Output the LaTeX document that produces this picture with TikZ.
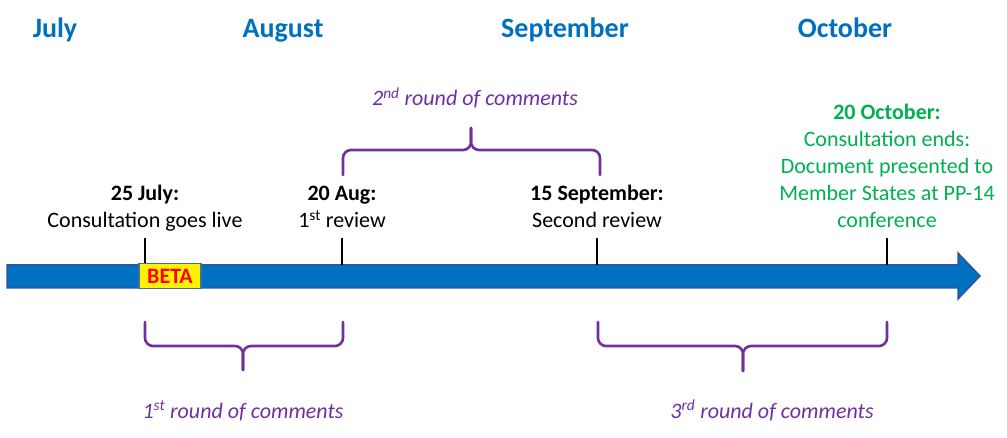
\documentclass[tikz,border=0pt]{standalone}
\usepackage{fontspec}
\setmainfont{Carlito}
\usetikzlibrary{arrows.meta, positioning, calc}
\definecolor{tlblue}  {RGB}{0,  112, 192}
\definecolor{tledge}  {RGB}{47,  85, 151}
\definecolor{tlpurple}{RGB}{112, 48, 160}
\definecolor{tlgreen} {RGB}{0,  176,  80}
\definecolor{betaedge}{RGB}{65, 113, 156}
\tikzset{
	month/.style={font=\bfseries\fontsize{28}{34}\selectfont, text=tlblue, anchor=base, inner sep=0pt},
	milestone/.style={font=\fontsize{22}{27}\selectfont, align=center, anchor=south, inner sep=0pt, text depth=6pt},
	tickline/.style={line width=2.8pt, black},
	brace/.style={line width=2.6pt, tlpurple, rounded corners=8pt, line cap=round},
	roundlbl/.style={font=\itshape\fontsize{22}{27}\selectfont, text=tlpurple, anchor=base, inner sep=0pt}
}

\begin{document}
\begin{tikzpicture}[x=1pt, y=-1pt]
	\useasboundingbox (0,0) rectangle (1007,438);
	% months
	\node[month] (jul) at (55,38) {July};
	\node[month] (aug) at (283,38) {August};
	\node[month] (sep) at (565,38) {September};
	\node[month] (oct) at (845,38) {October};
	% time line
	\filldraw[fill=tlblue, draw=tledge, line width=1.5pt, line join=miter]
		(7,265) -- (958,265) -- (958,253) -- (980,276) -- (958,299) -- (958,288) -- (7,288) -- cycle;
	% ticks
	\coordinate (t1) at (145,265);
	\coordinate (t2) at (342,265);
	\coordinate (t3) at (597,265);
	\coordinate (t4) at (887,265);
	\coordinate (t1top) at (145,238);
	\coordinate (t2top) at (342,238);
	\coordinate (t3top) at (597,238);
	\coordinate (t4top) at (887,238);
	\draw[tickline] (t1) -- (t1top);
	\draw[tickline] (t2) -- (t2top);
	\draw[tickline] (t3) -- (t3top);
	\draw[tickline] (t4) -- (t4top);
	\node[draw=betaedge, fill=yellow, line width=1.8pt, minimum width=62pt, minimum height=25pt, inner sep=0pt,
		text=red, font=\bfseries\fontsize{22}{26}\selectfont] (beta) at (170,276) {BETA};
	% milestones
	\node[milestone, above=4pt of t1top] (m1) {\textbf{25 July:}\\Consultation goes live};
	\node[milestone, above=4pt of t2top] (m2) {\textbf{20 Aug:}\\1\textsuperscript{st} review};
	\node[milestone, above=4pt of t3top] (m3) {\textbf{15 September:}\\Second review};
	\node[milestone, above=4pt of t4top, text=tlgreen] (m4) {\textbf{20 October:}\\Consultation ends:\\Document presented to\\Member States at PP-14\\conference};
	% braces
	\coordinate (b1l) at (145,322);
	\coordinate (b1r) at (343,322);
	\coordinate (b1m) at (243,346);
	\coordinate (b1tip) at (243,370);
	\draw[brace] (b1l) |- (b1m) -- (b1tip);
	\draw[brace] (b1r) |- (b1m) -- (b1tip);
	\coordinate (b2l) at (343,175);
	\coordinate (b2r) at (600,175);
	\coordinate (b2m) at (471,150);
	\coordinate (b2tip) at (471,128);
	\draw[brace] (b2l) |- (b2m) -- (b2tip);
	\draw[brace] (b2r) |- (b2m) -- (b2tip);
	\coordinate (b3l) at (598,322);
	\coordinate (b3r) at (887,322);
	\coordinate (b3m) at (743,346);
	\coordinate (b3tip) at (743,371);
	\draw[brace] (b3l) |- (b3m) -- (b3tip);
	\draw[brace] (b3r) |- (b3m) -- (b3tip);
	% round labels
	\node[roundlbl] (r1) at (243,418) {1\textsuperscript{st} round of comments};
	\node[roundlbl] (r2) at (475,106) {2\textsuperscript{nd} round of comments};
	\node[roundlbl] (r3) at (772,418) {3\textsuperscript{rd} round of comments};
\end{tikzpicture}
\end{document}
